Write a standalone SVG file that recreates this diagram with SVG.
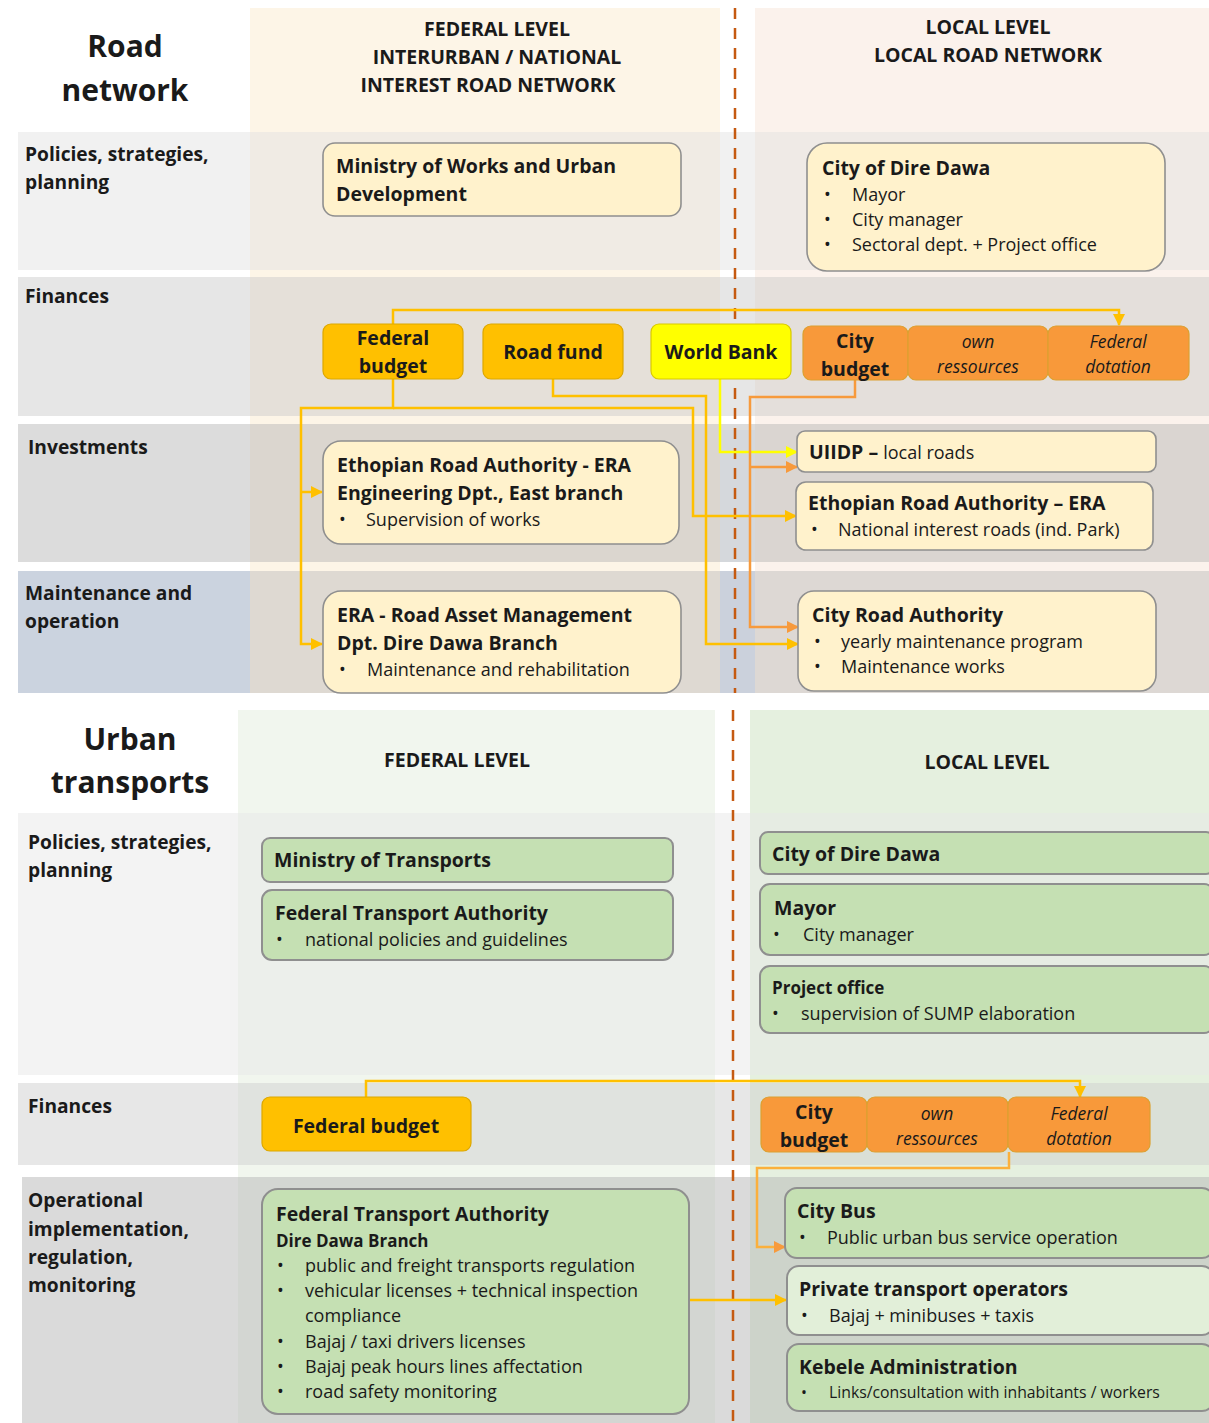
<svg xmlns="http://www.w3.org/2000/svg" width="1209" height="1423" viewBox="0 0 1209 1423">
<style>
text{font-family:"Open Sans","Noto Sans","Liberation Sans",sans-serif;fill:#1a1a1a}
.title{font-size:30px;font-weight:bold;text-anchor:middle}
.h{font-size:19.5px;font-weight:bold;text-anchor:middle}
.lbl{font-size:19.2px;font-weight:bold}
.nt{font-size:19.5px;font-weight:bold}
.ns{font-size:17px;font-weight:bold}
.bl{font-size:18px}
.fin{font-size:19.5px;font-weight:bold;text-anchor:middle}
.it{font-size:17.5px;font-style:italic;text-anchor:middle}
.cream{fill:#fff2cc;stroke:#8f8f8f;stroke-width:1.6}
.green{fill:#c5e0b3;stroke:#8f8f8f;stroke-width:2}
.lgreen{fill:#e2efd9;stroke:#8f8f8f;stroke-width:2}
.gold{fill:#ffc000;stroke:#dca700;stroke-width:1.2}
.yel{fill:#ffff00;stroke:#d9c900;stroke-width:1.2}
.org{fill:#f8993a;stroke:#dca030;stroke-width:1.2}
.c{fill:none;stroke-width:2.5;stroke-linejoin:miter}
.cg{stroke:#ffc000}
.cy{stroke:#ffff00}
.co{stroke:#f79a3c}
.cb{stroke:#fbb03b}
.dash{stroke:#c55a11;stroke-width:2.5;stroke-dasharray:11 9;fill:none}
</style>
<defs>
<marker id="ag" markerWidth="12" markerHeight="12" refX="11" refY="6" orient="auto" markerUnits="userSpaceOnUse"><path d="M0,0 L12,6 L0,12 z" fill="#ffc000"/></marker>
<marker id="ay" markerWidth="12" markerHeight="12" refX="11" refY="6" orient="auto" markerUnits="userSpaceOnUse"><path d="M0,0 L12,6 L0,12 z" fill="#ffff00"/></marker>
<marker id="ao" markerWidth="12" markerHeight="12" refX="11" refY="6" orient="auto" markerUnits="userSpaceOnUse"><path d="M0,0 L12,6 L0,12 z" fill="#f79a3c"/></marker>
</defs>

<g id="background">
<rect x="0" y="0" width="1209" height="1423" fill="#ffffff"/>
<rect x="250" y="8" width="470" height="685" fill="#fdf5e7"/>
<rect x="755" y="8" width="454" height="685" fill="#fbf2ec"/>
<rect x="18" y="132" width="1191" height="138" fill="#e0e0e0" opacity="0.45"/>
<rect x="18" y="277" width="1191" height="139" fill="#c8c8c8" opacity="0.45"/>
<rect x="18" y="424" width="1191" height="138" fill="#b2b2b2" opacity="0.45"/>
<rect x="18" y="571" width="1191" height="122" fill="#b8b8b8" opacity="0.45"/>
<rect x="18" y="571" width="232" height="122" fill="#cbd3df"/>
<rect x="720" y="430" width="35" height="132" fill="#c9d0dc" opacity="0.35"/>
<rect x="720" y="571" width="35" height="122" fill="#b9c5d8" opacity="0.55"/>
<rect x="238" y="710" width="477" height="713" fill="#f1f6ee"/>
<rect x="750" y="710" width="459" height="713" fill="#e5f0df"/>
<rect x="18" y="813" width="1191" height="262" fill="#e8e8e8" opacity="0.5"/>
<rect x="18" y="1083" width="1191" height="82" fill="#cfcfcf" opacity="0.5"/>
<rect x="22" y="1177" width="1187" height="246" fill="#b6b6b6" opacity="0.5"/>
<line class="dash" x1="735" y1="8" x2="735" y2="693"/>
<line class="dash" x1="733" y1="710" x2="733" y2="1423"/>
</g>

<g id="headers">
<text class="title" x="125" y="57">Road</text>
<text class="title" x="125" y="101">network</text>
<text class="h" x="497" y="36">FEDERAL LEVEL</text>
<text class="h" x="497" y="64">INTERURBAN / NATIONAL</text>
<text class="h" x="488" y="92">INTEREST ROAD NETWORK</text>
<text class="h" x="988" y="34">LOCAL LEVEL</text>
<text class="h" x="988" y="62">LOCAL ROAD NETWORK</text>
<text class="lbl" x="25" y="161">Policies, strategies,</text>
<text class="lbl" x="25" y="189">planning</text>
<text class="lbl" x="25" y="303">Finances</text>
<text class="lbl" x="28" y="454">Investments</text>
<text class="lbl" x="25" y="600">Maintenance and</text>
<text class="lbl" x="25" y="628">operation</text>

<text class="title" x="130" y="750">Urban</text>
<text class="title" x="130" y="793">transports</text>
<text class="h" x="457" y="767">FEDERAL LEVEL</text>
<text class="h" x="987" y="769">LOCAL LEVEL</text>
<text class="lbl" x="28" y="849">Policies, strategies,</text>
<text class="lbl" x="28" y="877">planning</text>
<text class="lbl" x="28" y="1113">Finances</text>
<text class="lbl" x="28" y="1207">Operational</text>
<text class="lbl" x="28" y="1236">implementation,</text>
<text class="lbl" x="28" y="1264">regulation,</text>
<text class="lbl" x="28" y="1292">monitoring</text>
</g>

<g id="connectors">
<path class="c cg" d="M393,324 V310 H1119 V325" marker-end="url(#ag)"/>
<path class="c cg" d="M393,379 V408 H301 V644 H322" marker-end="url(#ag)"/>
<path class="c cg" d="M301,492 H322" marker-end="url(#ag)"/>
<path class="c cg" d="M393,408 H693 V516 H796" marker-end="url(#ag)"/>
<path class="c cg" d="M553,379 V396 H706 V644 H798" marker-end="url(#ag)"/>
<path class="c cy" d="M720,379 V452 H797" marker-end="url(#ay)"/>
<path class="c co" d="M855,380 V397 H750 V627 H798" marker-end="url(#ao)"/>
<path class="c co" d="M750,467 H797" marker-end="url(#ao)"/>
<path class="c cg" d="M366,1097 V1081 H1080 V1097" marker-end="url(#ag)"/>
<path class="c cb" d="M1009,1152 V1168 H757 V1247 H785" marker-end="url(#ao)"/>
<path class="c cg" d="M689,1300 H786" marker-end="url(#ag)"/>
</g>

<g id="n-ministry-works">
<rect class="cream" x="323" y="143" width="358" height="73" rx="12"/>
<text class="nt" x="336" y="173">Ministry of Works and Urban</text>
<text class="nt" x="336" y="201">Development</text>
</g>
<g id="n-city-dire-dawa-road">
<rect class="cream" x="807" y="143" width="358" height="128" rx="20"/>
<text class="nt" x="822" y="175">City of Dire Dawa</text>
<text class="bl" x="824" y="201">•</text><text class="bl" x="852" y="201">Mayor</text>
<text class="bl" x="824" y="226">•</text><text class="bl" x="852" y="226">City manager</text>
<text class="bl" x="824" y="251">•</text><text class="bl" x="852" y="251">Sectoral dept. + Project office</text>
</g>

<g id="n-federal-budget-road">
<rect class="gold" x="323" y="324" width="140" height="55" rx="8"/>
<text class="fin" x="393" y="345">Federal</text>
<text class="fin" x="393" y="373">budget</text>
</g>
<g id="n-road-fund">
<rect class="gold" x="483" y="324" width="140" height="55" rx="8"/>
<text class="fin" x="553" y="359">Road fund</text>
</g>
<g id="n-world-bank">
<rect class="yel" x="651" y="324" width="140" height="55" rx="8"/>
<text class="fin" x="721" y="359">World Bank</text>
</g>
<g id="n-city-budget-road">
<rect class="org" x="803" y="326" width="105" height="54" rx="8"/>
<text class="fin" x="855" y="348">City</text>
<text class="fin" x="855" y="376">budget</text>
</g>
<g id="n-own-ressources-road">
<rect class="org" x="908" y="326" width="140" height="54" rx="8"/>
<text class="it" x="978" y="348">own</text>
<text class="it" x="978" y="373">ressources</text>
</g>
<g id="n-federal-dotation-road">
<rect class="org" x="1048" y="326" width="141" height="54" rx="8"/>
<text class="it" x="1118" y="348">Federal</text>
<text class="it" x="1118" y="373">dotation</text>
</g>

<g id="n-era-engineering">
<rect class="cream" x="323" y="441" width="356" height="103" rx="18"/>
<text class="nt" x="337" y="472">Ethopian Road Authority - ERA</text>
<text class="nt" x="337" y="500">Engineering Dpt., East branch</text>
<text class="bl" x="339" y="526">•</text><text class="bl" x="366" y="526">Supervision of works</text>
</g>
<g id="n-uiidp">
<rect class="cream" x="797" y="431" width="359" height="41" rx="8"/>
<text class="nt" x="809" y="459">UIIDP – <tspan style="font-weight:normal;font-size:18px">local roads</tspan></text>
</g>
<g id="n-era-local">
<rect class="cream" x="796" y="482" width="357" height="68" rx="10"/>
<text class="nt" x="808" y="510">Ethopian Road Authority – ERA</text>
<text class="bl" x="811" y="536">•</text><text class="bl" x="838" y="536">National interest roads (ind. Park)</text>
</g>
<g id="n-era-ram">
<rect class="cream" x="323" y="591" width="358" height="102" rx="18"/>
<text class="nt" x="337" y="622">ERA - Road Asset Management</text>
<text class="nt" x="337" y="650">Dpt. Dire Dawa Branch</text>
<text class="bl" x="339" y="676">•</text><text class="bl" x="367" y="676">Maintenance and rehabilitation</text>
</g>
<g id="n-city-road-authority">
<rect class="cream" x="798" y="591" width="358" height="100" rx="16"/>
<text class="nt" x="812" y="622">City Road Authority</text>
<text class="bl" x="814" y="648">•</text><text class="bl" x="841" y="648">yearly maintenance program</text>
<text class="bl" x="814" y="673">•</text><text class="bl" x="841" y="673">Maintenance works</text>
</g>

<g id="n-ministry-transports">
<rect class="green" x="262" y="838" width="411" height="44" rx="8"/>
<text class="nt" x="274" y="867">Ministry of Transports</text>
</g>
<g id="n-fta-policies">
<rect class="green" x="262" y="890" width="411" height="70" rx="10"/>
<text class="nt" x="275" y="920">Federal Transport Authority</text>
<text class="bl" x="276" y="946">•</text><text class="bl" x="305" y="946">national policies and guidelines</text>
</g>
<g id="n-city-dire-dawa-ut">
<rect class="green" x="760" y="832" width="454" height="42" rx="8"/>
<text class="nt" x="772" y="861">City of Dire Dawa</text>
</g>
<g id="n-mayor">
<rect class="green" x="760" y="884" width="454" height="71" rx="10"/>
<text class="nt" x="774" y="915">Mayor</text>
<text class="bl" x="773" y="941">•</text><text class="bl" x="803" y="941">City manager</text>
</g>
<g id="n-project-office">
<rect class="green" x="760" y="966" width="454" height="67" rx="10"/>
<text class="ns" x="772" y="994">Project office</text>
<text class="bl" x="772" y="1020">•</text><text class="bl" x="801" y="1020">supervision of SUMP elaboration</text>
</g>

<g id="n-federal-budget-ut">
<rect class="gold" x="262" y="1097" width="209" height="54" rx="8"/>
<text class="fin" x="366" y="1133">Federal budget</text>
</g>
<g id="n-city-budget-ut">
<rect class="org" x="761" y="1097" width="106" height="55" rx="8"/>
<text class="fin" x="814" y="1119">City</text>
<text class="fin" x="814" y="1147">budget</text>
</g>
<g id="n-own-ressources-ut">
<rect class="org" x="867" y="1097" width="141" height="55" rx="8"/>
<text class="it" x="937" y="1120">own</text>
<text class="it" x="937" y="1145">ressources</text>
</g>
<g id="n-federal-dotation-ut">
<rect class="org" x="1008" y="1097" width="142" height="55" rx="8"/>
<text class="it" x="1079" y="1120">Federal</text>
<text class="it" x="1079" y="1145">dotation</text>
</g>

<g id="n-fta-dire-dawa">
<rect class="green" x="262" y="1189" width="427" height="225" rx="16"/>
<text class="nt" x="276" y="1221">Federal Transport Authority</text>
<text class="ns" x="276" y="1247">Dire Dawa Branch</text>
<text class="bl" x="277" y="1272">•</text><text class="bl" x="305" y="1272">public and freight transports regulation</text>
<text class="bl" x="277" y="1297">•</text><text class="bl" x="305" y="1297">vehicular licenses + technical inspection</text>
<text class="bl" x="305" y="1322">compliance</text>
<text class="bl" x="277" y="1348">•</text><text class="bl" x="305" y="1348">Bajaj / taxi drivers licenses</text>
<text class="bl" x="277" y="1373">•</text><text class="bl" x="305" y="1373">Bajaj peak hours lines affectation</text>
<text class="bl" x="277" y="1398">•</text><text class="bl" x="305" y="1398">road safety monitoring</text>
</g>
<g id="n-city-bus">
<rect class="green" x="785" y="1188" width="429" height="70" rx="12"/>
<text class="nt" x="797" y="1218">City Bus</text>
<text class="bl" x="799" y="1244">•</text><text class="bl" x="827" y="1244">Public urban bus service operation</text>
</g>
<g id="n-private-operators">
<rect class="lgreen" x="787" y="1266" width="427" height="69" rx="12"/>
<text class="nt" x="799" y="1296">Private transport operators</text>
<text class="bl" x="801" y="1322">•</text><text class="bl" x="829" y="1322">Bajaj + minibuses + taxis</text>
</g>
<g id="n-kebele">
<rect class="green" x="787" y="1344" width="427" height="67" rx="12"/>
<text class="nt" x="799" y="1374">Kebele Administration</text>
<text style="font-size:15.8px" x="801" y="1398">•</text><text style="font-size:15.8px" x="829" y="1398">Links/consultation with inhabitants / workers</text>
</g>
</svg>
